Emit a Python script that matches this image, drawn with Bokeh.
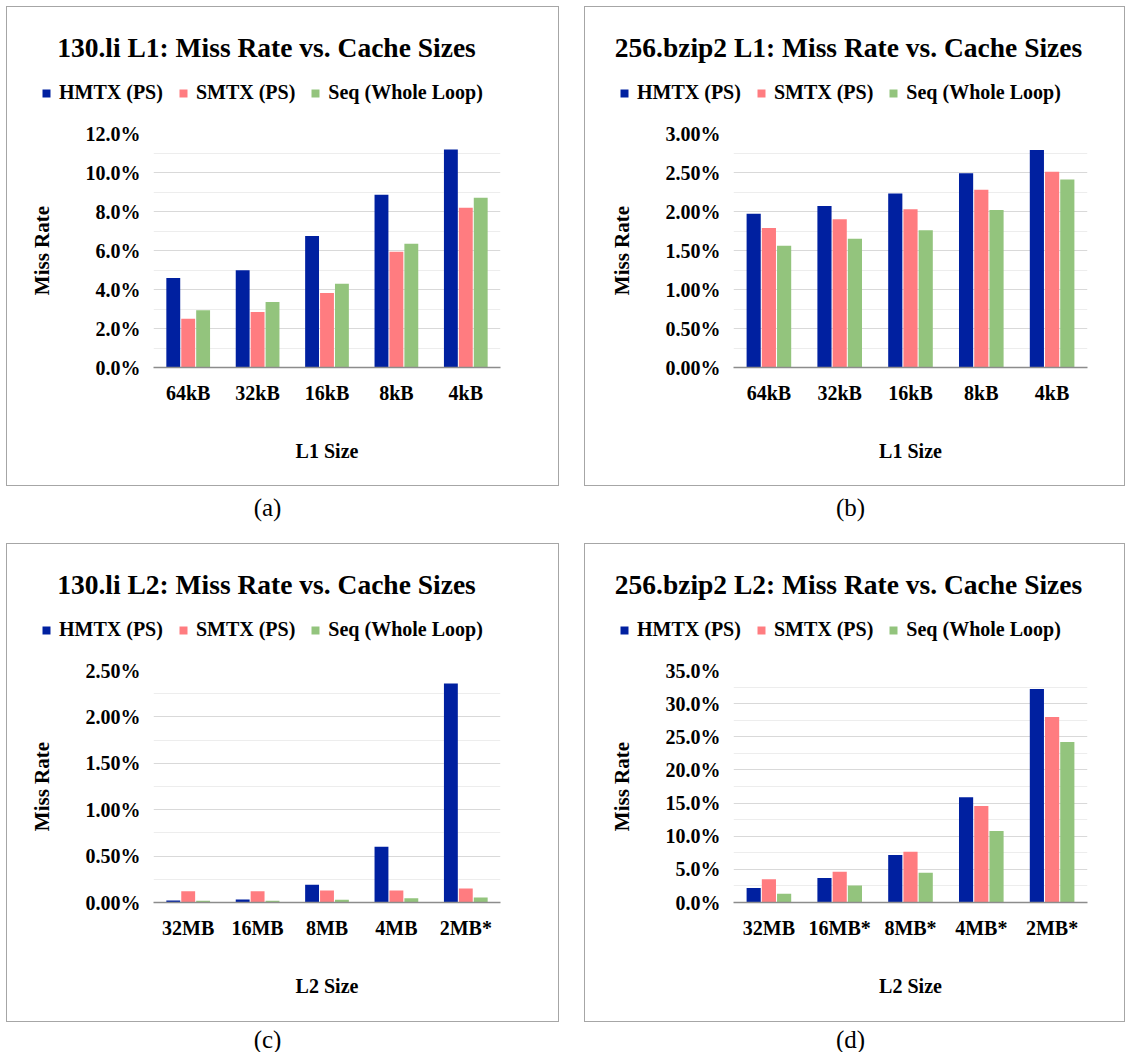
from bokeh.plotting import figure
from bokeh.models import (FactorRange, Range1d, FixedTicker, NumeralTickFormatter,
                          Legend, LegendItem, Spacer, ColumnDataSource)
from bokeh.core.properties import value
from bokeh.transform import dodge
from bokeh.layouts import row, column
from bokeh.embed import file_html
from bokeh.resources import INLINE

# ---------------- data ----------------
series_names = ["HMTX (PS)", "SMTX (PS)", "Seq (Whole Loop)"]
series_colors = ["#0020A0", "#FF7C80", "#93C47D"]

l1_sizes = ["64kB", "32kB", "16kB", "8kB", "4kB"]
li_l2_sizes = ["32MB", "16MB", "8MB", "4MB", "2MB*"]
bz_l2_sizes = ["32MB", "16MB*", "8MB*", "4MB*", "2MB*"]

# miss rates in percent
li_l1_hmtx = [4.59, 4.99, 6.74, 8.86, 11.18]
li_l1_smtx = [2.50, 2.85, 3.82, 5.93, 8.19]
li_l1_seq = [2.93, 3.36, 4.30, 6.34, 8.71]

bz_l1_hmtx = [1.97, 2.07, 2.23, 2.49, 2.79]
bz_l1_smtx = [1.79, 1.90, 2.03, 2.28, 2.51]
bz_l1_seq = [1.56, 1.65, 1.76, 2.02, 2.41]

li_l2_hmtx = [0.022, 0.032, 0.19, 0.60, 2.36]
li_l2_smtx = [0.12, 0.12, 0.13, 0.13, 0.15]
li_l2_seq = [0.02, 0.02, 0.03, 0.045, 0.055]

bz_l2_hmtx = [2.17, 3.68, 7.15, 15.86, 32.2]
bz_l2_smtx = [3.52, 4.63, 7.65, 14.55, 28.0]
bz_l2_seq = [1.31, 2.57, 4.48, 10.78, 24.2]

# y-axis ticks (percent)
ticks_a = [0, 2, 4, 6, 8, 10, 12]
ticks_b = [0, 0.5, 1.0, 1.5, 2.0, 2.5, 3.0]
ticks_c = [0, 0.5, 1.0, 1.5, 2.0, 2.5]
ticks_d = [0, 5, 10, 15, 20, 25, 30, 35]

titles = ["130.li L1: Miss Rate vs. Cache Sizes", "256.bzip2 L1: Miss Rate vs. Cache Sizes",
          "130.li L2: Miss Rate vs. Cache Sizes", "256.bzip2 L2: Miss Rate vs. Cache Sizes"]
captions = ["(a)", "(b)", "(c)", "(d)"]

FONT = "Liberation Serif"
BORDER = "1px solid #a6a6a6"
HEADER_H = 110


def blank_fig(w, h, styles=None):
    p = figure(x_range=Range1d(0, w), y_range=Range1d(h, 0), width=w, height=h,
               min_border=0, x_axis_location=None, y_axis_location=None,
               output_backend="svg", toolbar_location=None)
    p.frame_align = False
    p.grid.visible = False
    p.outline_line_color = None
    p.background_fill_color = "white"
    p.border_fill_color = "white"
    if styles:
        p.styles = styles
    return p


def make_header(title, w, title_x):
    p = blank_fig(w, HEADER_H, {"border-top": BORDER, "border-left": BORDER, "border-right": BORDER})
    p.text(x=[title_x], y=[40], text=[title], text_align="center", text_baseline="middle",
           text_font=value(FONT), text_font_style="bold", text_font_size="27.5px", text_color="black")
    # legend proxies (zero-size, hidden): only their colours are shown in the legend
    rends = []
    for i in range(3):
        r = p.vbar(x=[0], top=[0], width=0, fill_color=series_colors[i], line_color=None)
        r.visible = False
        rends.append(r)
    legend = Legend(items=[LegendItem(label=series_names[i], renderers=[rends[i]]) for i in range(3)],
                    orientation="horizontal", location=(34, 13),
                    glyph_width=10, glyph_height=10, label_standoff=8, spacing=15,
                    padding=0, margin=0, border_line_color=None, background_fill_alpha=0,
                    inactive_fill_alpha=0,
                    label_text_font=FONT, label_text_font_style="bold",
                    label_text_font_size="20px", label_text_color="black")
    p.add_layout(legend)
    return p


def make_chart(cats, vals, xlabel, ticks, fmt, w, h, left, right, frame_h):
    major = [t / 100.0 for t in ticks]
    minor = [(ticks[i] + ticks[i + 1]) / 200.0 for i in range(len(ticks) - 1)]
    top = 17
    p = figure(x_range=FactorRange(*cats), y_range=Range1d(0, major[-1]),
               width=w, height=h, min_border_left=left, min_border_right=right,
               min_border_top=top, min_border_bottom=h - top - frame_h,
               output_backend="svg", toolbar_location=None)
    p.frame_align = False
    p.outline_line_color = None
    p.background_fill_color = "white"
    p.border_fill_color = "white"
    p.styles = {"border-bottom": BORDER, "border-left": BORDER, "border-right": BORDER}

    data = dict(cat=cats)
    for i, v in enumerate(vals):
        data["s%d" % i] = [x / 100.0 for x in v]
    src = ColumnDataSource(data)
    offsets = [-0.215, 0.0, 0.215]
    for i in range(3):
        p.vbar(x=dodge("cat", offsets[i], range=p.x_range), top="s%d" % i,
               width=0.2, source=src, fill_color=series_colors[i], line_color=None)

    p.yaxis.ticker = FixedTicker(ticks=major, minor_ticks=minor)
    p.yaxis.formatter = NumeralTickFormatter(format=fmt)
    p.yaxis.axis_line_color = None
    p.yaxis.major_tick_line_color = None
    p.yaxis.minor_tick_line_color = None
    p.yaxis.major_label_standoff = 7
    p.yaxis.major_label_text_font = FONT
    p.yaxis.major_label_text_font_style = "bold"
    p.yaxis.major_label_text_font_size = "20px"
    p.yaxis.major_label_text_color = "black"
    p.yaxis.axis_label = "Miss Rate"
    p.yaxis.axis_label_text_font = FONT
    p.yaxis.axis_label_text_font_style = "bold"
    p.yaxis.axis_label_text_font_size = "21px"
    p.yaxis.axis_label_text_color = "black"
    p.yaxis.axis_label_standoff = 29

    p.xaxis.axis_line_color = "#8c8c8c"
    p.xaxis.axis_line_width = 1.5
    p.xaxis.major_tick_line_color = None
    p.xaxis.minor_tick_line_color = None
    p.xaxis.major_label_standoff = 8
    p.xaxis.major_label_text_font = FONT
    p.xaxis.major_label_text_font_style = "bold"
    p.xaxis.major_label_text_font_size = "20px"
    p.xaxis.major_label_text_color = "black"
    p.xaxis.axis_label = xlabel
    p.xaxis.axis_label_text_font = FONT
    p.xaxis.axis_label_text_font_style = "bold"
    p.xaxis.axis_label_text_font_size = "20px"
    p.xaxis.axis_label_text_color = "black"
    p.xaxis.axis_label_standoff = 33

    p.xgrid.grid_line_color = None
    p.ygrid.grid_line_color = "#d9d9d9"
    p.ygrid.minor_grid_line_color = "#ededed"
    return p


def make_caption(txt, w, h, cx, cy):
    p = blank_fig(w, h)
    p.text(x=[cx], y=[cy], text=[txt], text_align="center", text_baseline="middle",
           text_font=value(FONT), text_font_size="25px", text_color="black")
    return p


WA, WB = 553, 541
ha = make_header(titles[0], WA, 259)
hb = make_header(titles[1], WB, 263)
hc = make_header(titles[2], WA, 259)
hd = make_header(titles[3], WB, 263)

ca = make_chart(l1_sizes, [li_l1_hmtx, li_l1_smtx, li_l1_seq], "L1 Size", ticks_a, "0.0%",
                WA, 370, 146, 60, 234)
cb = make_chart(l1_sizes, [bz_l1_hmtx, bz_l1_smtx, bz_l1_seq], "L1 Size", ticks_b, "0.00%",
                WB, 370, 148, 39, 234)
cc = make_chart(li_l2_sizes, [li_l2_hmtx, li_l2_smtx, li_l2_seq], "L2 Size", ticks_c, "0.00%",
                WA, 369, 146, 60, 232)
cd = make_chart(bz_l2_sizes, [bz_l2_hmtx, bz_l2_smtx, bz_l2_seq], "L2 Size", ticks_d, "0.0%",
                WB, 369, 148, 39, 232)

cap_a = make_caption(captions[0], WA, 57, 261, 21)
cap_b = make_caption(captions[1], WB, 57, 266, 21)
cap_c = make_caption(captions[2], WA, 30, 261, 17)
cap_d = make_caption(captions[3], WB, 30, 266, 17)

layout = column(
    Spacer(height=6),
    row(Spacer(width=6), column(ha, ca), Spacer(width=25), column(hb, cb)),
    row(Spacer(width=6), cap_a, Spacer(width=25), cap_b),
    row(Spacer(width=6), column(hc, cc), Spacer(width=25), column(hd, cd)),
    row(Spacer(width=6), cap_c, Spacer(width=25), cap_d),
)

open("out.html", "w").write(file_html(layout, INLINE))
